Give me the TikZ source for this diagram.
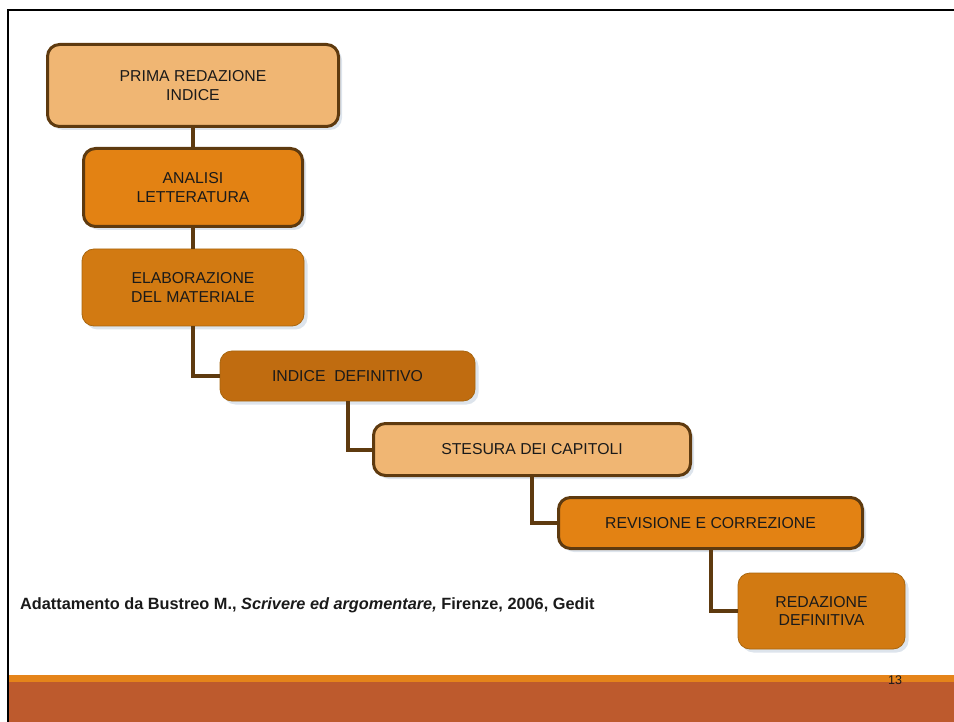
\documentclass[tikz,border=0pt]{standalone}
\usepackage{fontspec}
\setmainfont{Liberation Sans}
\usetikzlibrary{shadows}
\definecolor{lightbox}{HTML}{F0B673}
\definecolor{orangebox}{HTML}{E38213}
\definecolor{midbox}{HTML}{D27A12}
\definecolor{darkbox}{HTML}{C06C10}
\definecolor{brownline}{HTML}{5E3A0F}
\definecolor{thinedge}{HTML}{A8660F}
\definecolor{shadowc}{HTML}{DDE4EC}
\definecolor{footorange}{HTML}{E5841A}
\definecolor{footrust}{HTML}{BD5A2D}
\definecolor{textc}{HTML}{1A1A1A}
\tikzset{
  stepbox/.style={rectangle, rounded corners=12pt, align=center, text=textc,
    font=\fontsize{15.8}{18.7}\selectfont, inner sep=0pt,
    drop shadow={shadow xshift=3.5pt, shadow yshift=-3.5pt, fill=shadowc, opacity=1}},
  thickedge/.style={draw=brownline, line width=3pt},
  thinedge/.style={draw=thinedge, line width=0.8pt},
  link/.style={draw=brownline, line width=4pt, line cap=butt, line join=miter}
}
\begin{document}
\begin{tikzpicture}[x=1pt, y=-1pt]
\useasboundingbox (0,0) rectangle (954,722);
% footer
\fill[footorange] (7,675) rectangle (954,682);
\fill[footrust] (7,682) rectangle (954,722);
% frame
\draw[black, line width=2pt] (8,722) -- (8,10) -- (954,10);
% boxes
\node[stepbox, thickedge, fill=lightbox, minimum width=291pt, minimum height=82pt] (b1) at (193,85.5) {PRIMA REDAZIONE\\INDICE};
\node[stepbox, thickedge, fill=orangebox, minimum width=219pt, minimum height=78pt] (b2) at (193,187.5) {ANALISI\\LETTERATURA};
\node[stepbox, thinedge, fill=midbox, minimum width=222pt, minimum height=77pt] (b3) at (193,287.5) {ELABORAZIONE\\DEL MATERIALE};
\node[stepbox, thinedge, fill=darkbox, minimum width=255pt, minimum height=50pt] (b4) at (347.5,376) {INDICE\ \ DEFINITIVO};
\node[stepbox, thickedge, fill=lightbox, minimum width=317pt, minimum height=52pt] (b5) at (532,449.5) {STESURA DEI CAPITOLI};
\node[stepbox, thickedge, fill=orangebox, minimum width=304pt, minimum height=51pt] (b6) at (710.5,523) {REVISIONE E CORREZIONE};
\node[stepbox, thinedge, fill=midbox, minimum width=167pt, minimum height=76pt] (b7) at (821.5,611) {REDAZIONE\\DEFINITIVA};
% connectors
\draw[link] (b1.south) -- (b2.north);
\draw[link] (b2.south) -- (b3.north);
\draw[link] (b3.south) |- (b4.west);
\draw[link] (b4.south) |- (b5.west);
\draw[link] (b5.south) |- (b6.west);
\draw[link] (b6.south) |- (b7.west);
% citation
\node[anchor=base west, inner sep=0pt, text=textc, font=\fontsize{16.3}{19}\selectfont\bfseries] (cite) at (20,609)
  {Adattamento da Bustreo M., \textit{Scrivere ed argomentare,} Firenze, 2006, Gedit};
% page number
\node[anchor=base, inner sep=0pt, text=textc, font=\fontsize{12.5}{14}\selectfont] (pnum) at (895,684) {13};
\end{tikzpicture}
\end{document}
